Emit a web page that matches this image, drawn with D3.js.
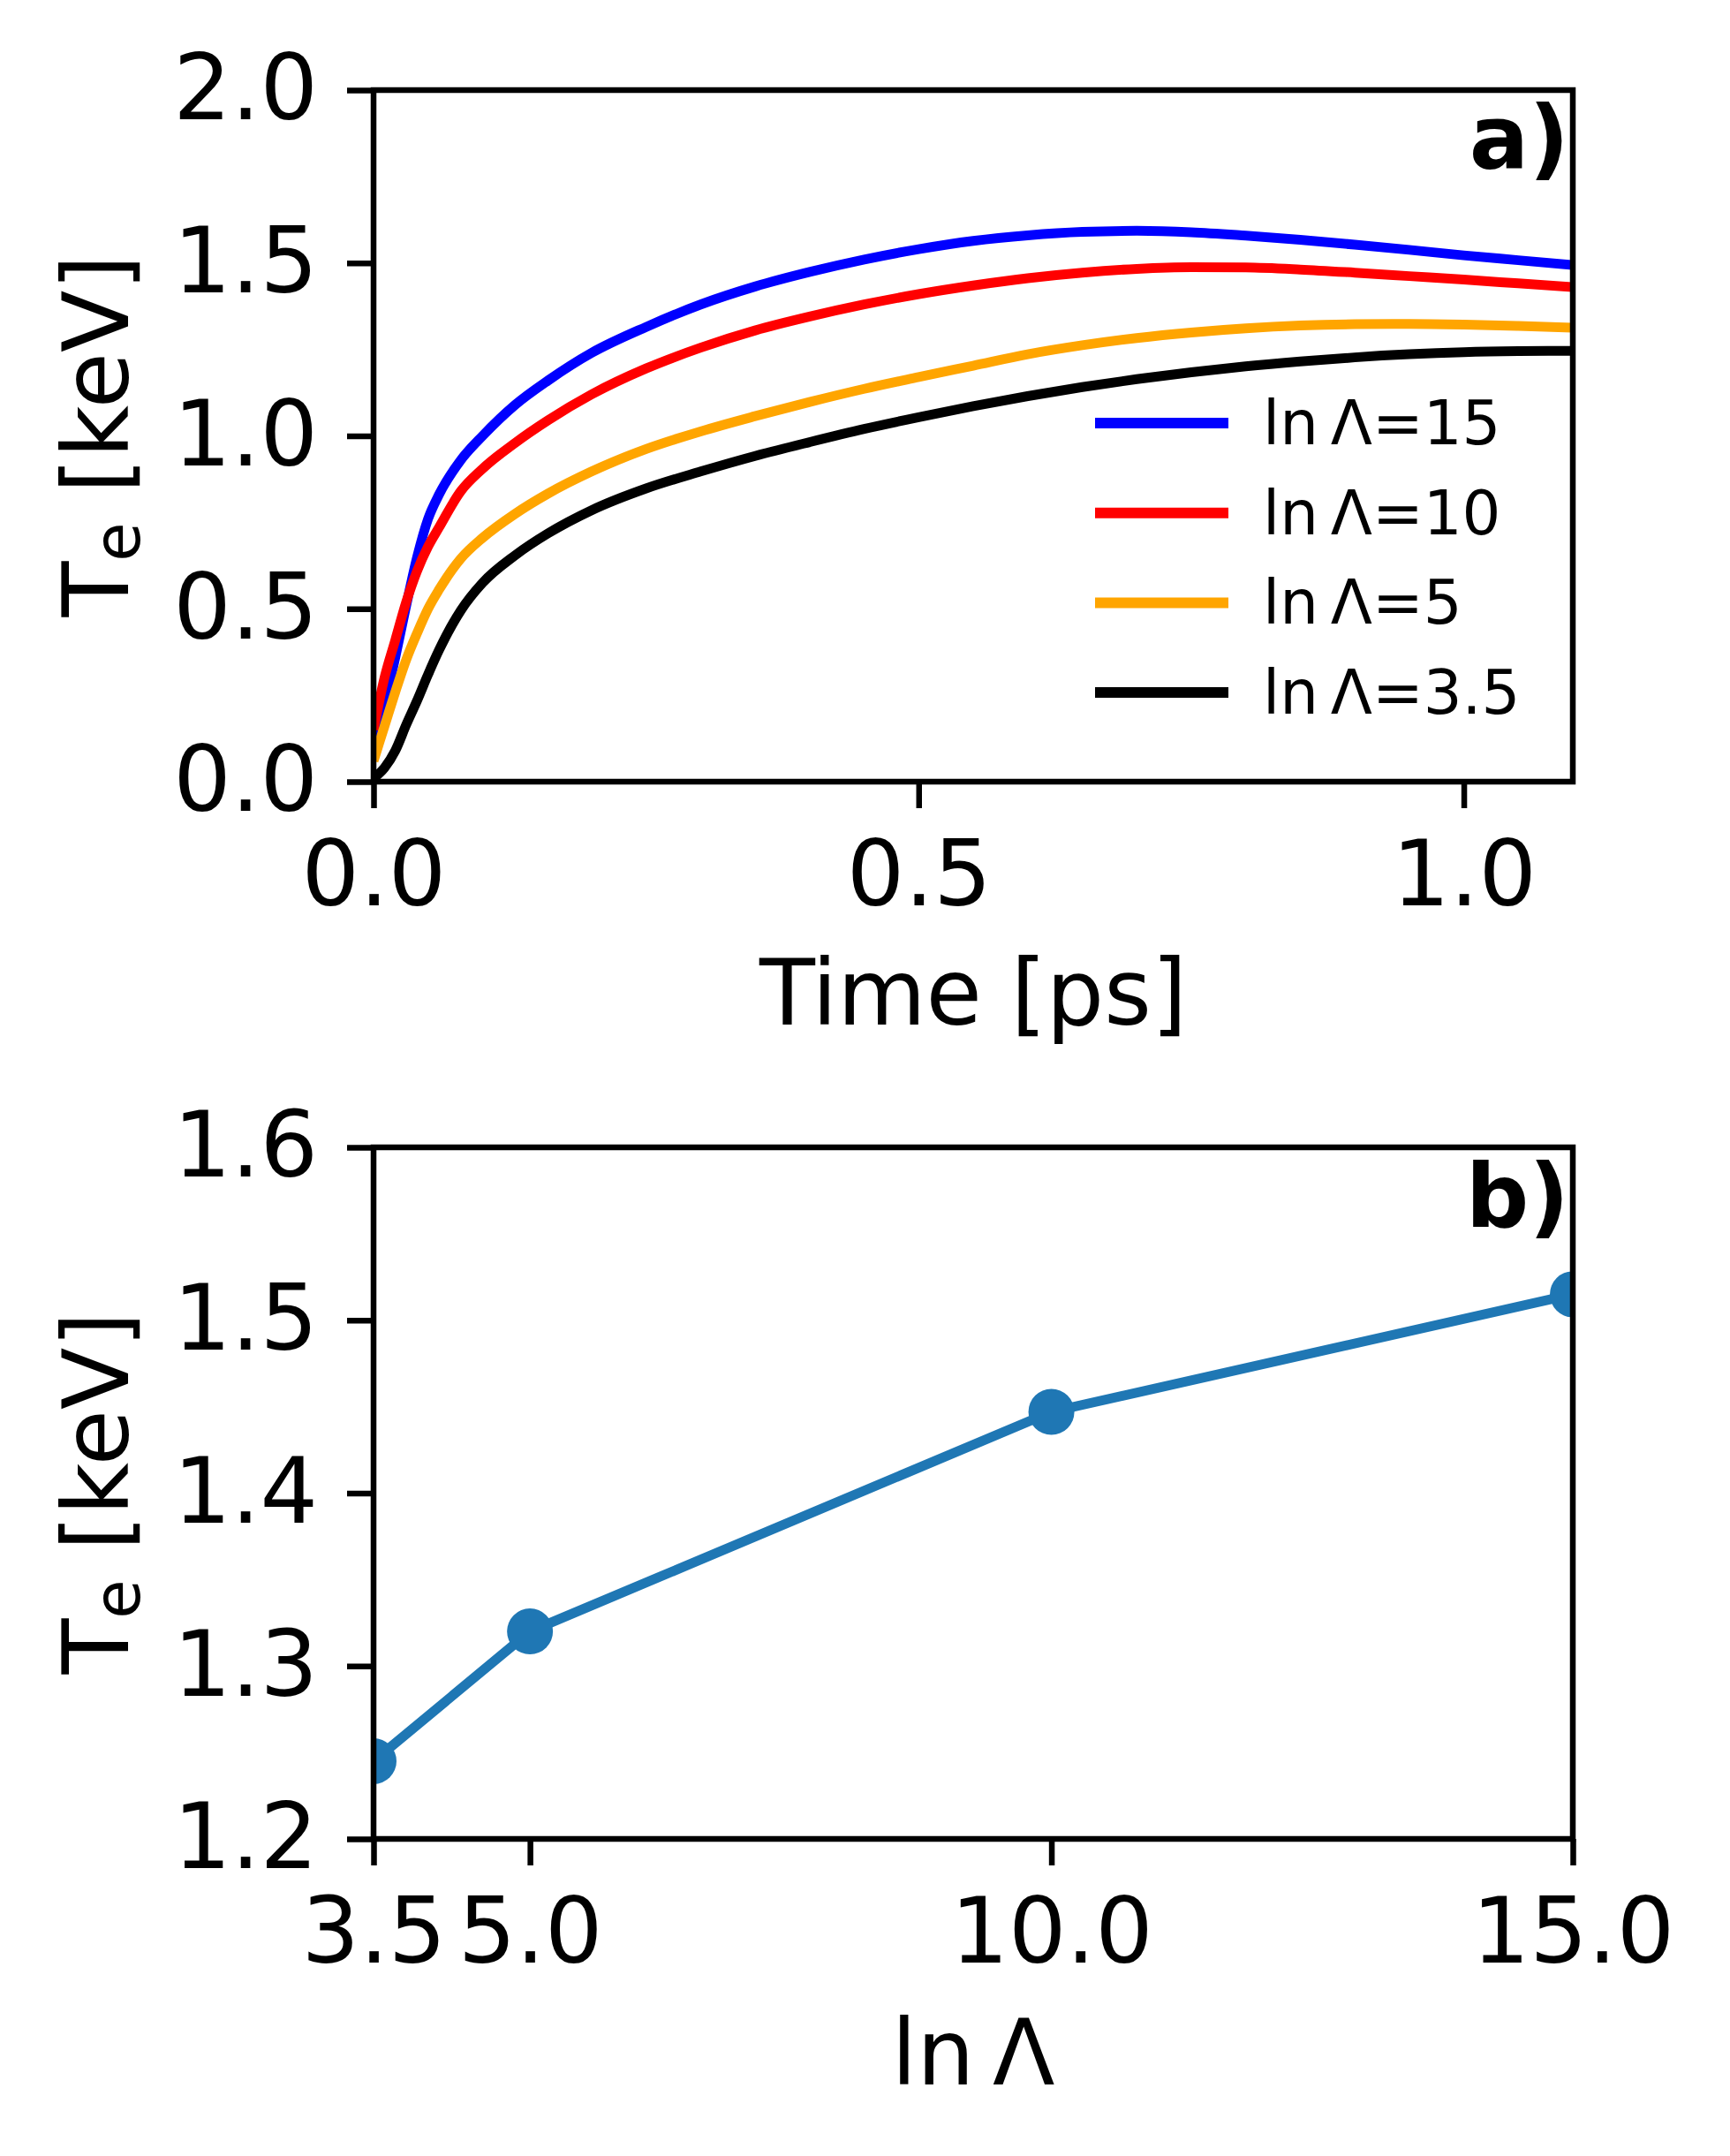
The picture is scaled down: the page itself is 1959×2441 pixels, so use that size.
<!DOCTYPE html>
<html>
  <script src="https://d3js.org/d3.v7.min.js" type="text/JavaScript"></script>
  <style>
    body { margin: 0; background: #fff; }
    text { font-family: "DejaVu Sans", sans-serif; fill: #000; }
  </style>
  <body>
    <svg></svg>
    <script>
// panel a) : electron temperature vs time for several Coulomb logarithms
var timePs = [0, 0.01, 0.02, 0.03, 0.04, 0.05, 0.06, 0.08, 0.10, 0.13, 0.16, 0.20, 0.25, 0.30, 0.35,
              0.40, 0.45, 0.50, 0.55, 0.60, 0.65, 0.70, 0.75, 0.80, 0.85, 0.90, 0.95, 1.00, 1.05, 1.10];
var te15 = [0.09, 0.22, 0.36, 0.51, 0.65, 0.76, 0.83, 0.93, 1.00, 1.09, 1.16, 1.24, 1.315, 1.38, 1.432,
            1.474, 1.51, 1.54, 1.564, 1.58, 1.59, 1.593, 1.589, 1.579, 1.567, 1.553, 1.538, 1.522, 1.508, 1.494];
var te10 = [0.15, 0.30, 0.41, 0.52, 0.61, 0.68, 0.735, 0.84, 0.905, 0.98, 1.045, 1.12, 1.195, 1.255, 1.305,
            1.345, 1.38, 1.41, 1.435, 1.456, 1.472, 1.483, 1.488, 1.487, 1.481, 1.472, 1.462, 1.452, 1.441, 1.43];
var te5 = [0.06, 0.16, 0.26, 0.353, 0.43, 0.50, 0.555, 0.645, 0.705, 0.775, 0.833, 0.897, 0.962, 1.013, 1.057,
           1.098, 1.136, 1.17, 1.203, 1.236, 1.262, 1.283, 1.299, 1.311, 1.319, 1.323, 1.324, 1.322, 1.318, 1.313];
var te35 = [0.01, 0.04, 0.09, 0.165, 0.235, 0.31, 0.38, 0.495, 0.575, 0.655, 0.718, 0.785, 0.848, 0.897, 0.942,
            0.982, 1.02, 1.054, 1.086, 1.115, 1.141, 1.164, 1.184, 1.201, 1.215, 1.227, 1.236, 1.242, 1.245, 1.246];
var seriesLabels = ['15', '10', '5', '3.5'];
var seriesColors = ['blue', 'red', 'orange', 'black'];
var timeTicks = [0, 0.5, 1.0];
var teTicksA = [0, 0.5, 1.0, 1.5, 2.0];

// panel b) : temperature vs ln Lambda
var lnLambda = [3.5, 5, 10, 15];
var teB = [1.245, 1.32, 1.447, 1.515];
var teTicksB = [1.2, 1.3, 1.4, 1.5, 1.6];

var W = 1959, H = 2441;
var FS = 103;
var left = 423, right = 1781;

var svg = d3.select('svg').attr('width', W).attr('height', H);
svg.append('rect').attr('width', W).attr('height', H).attr('fill', '#fff');

function panel(top, bottom, xDomain, yDomain, xTicks, xFmt, yTicks, id) {
  var x = d3.scaleLinear().domain(xDomain).range([left, right]);
  var y = d3.scaleLinear().domain(yDomain).range([bottom, top]);

  svg.append('clipPath').attr('id', id)
    .append('rect').attr('x', left).attr('y', top).attr('width', right - left).attr('height', bottom - top);

  var gx = svg.append('g').attr('transform', `translate(0,${bottom})`)
    .call(d3.axisBottom(x).tickValues(xTicks).tickFormat(xFmt).tickSize(30).tickSizeOuter(0).tickPadding(37));
  var gy = svg.append('g').attr('transform', `translate(${left},0)`)
    .call(d3.axisLeft(y).tickValues(yTicks).tickFormat(d3.format('.1f')).tickSize(30).tickSizeOuter(0).tickPadding(33));
  [gx, gy].forEach(g => {
    g.select('.domain').remove();
    g.selectAll('line').attr('stroke', '#000').attr('stroke-width', 6.5);
    g.selectAll('text').attr('font-size', FS).style('font-family', '"DejaVu Sans"');
  });

  return { x: x, y: y, top: top, bottom: bottom, clip: `url(#${id})` };
}

function frame(p) {
  svg.append('rect')
    .attr('x', left).attr('y', p.top).attr('width', right - left).attr('height', p.bottom - p.top)
    .attr('fill', 'none').attr('stroke', '#000').attr('stroke-width', 6.5);
}

// ---- panel a
var pa = panel(102, 885, [0, 1.1], [0, 2], timeTicks, d3.format('.1f'), teTicksA, 'clipA');
var allSeries = [te15, te10, te5, te35];

var lineA = d3.line().curve(d3.curveMonotoneX).x((d, i) => pa.x(timePs[i])).y(d => pa.y(d));
svg.append('g').attr('clip-path', pa.clip)
  .selectAll('path').data(allSeries).enter().append('path')
    .attr('d', d => lineA(d))
    .attr('fill', 'none')
    .attr('stroke', (d, i) => seriesColors[i])
    .attr('stroke-width', 11)
    .attr('stroke-linejoin', 'round');
frame(pa);

// legend (no frame)
var leg = svg.append('g').selectAll('g').data(seriesLabels).enter().append('g')
  .attr('transform', (d, i) => `translate(1240,${479 + i * 101.7})`);
leg.append('line').attr('x1', 0).attr('x2', 151)
  .attr('stroke', (d, i) => seriesColors[i]).attr('stroke-width', 12);
leg.append('text').attr('x', 190).attr('dominant-baseline', 'central')
  .attr('font-size', 69)
  .text(d => 'ln\u2009\u039b=' + d);

svg.append('text').attr('x', 1777).attr('y', 191).attr('text-anchor', 'end')
  .attr('font-size', 100).attr('font-weight', 'bold').text('a)');

svg.append('text').attr('x', (left + right) / 2).attr('y', 1160).attr('text-anchor', 'middle')
  .attr('font-size', FS).text('Time [ps]');

function ylabel(cy) {
  var t = svg.append('text').attr('transform', `translate(145,${cy}) rotate(-90)`)
    .attr('text-anchor', 'middle').attr('font-size', FS);
  t.append('tspan').text('T');
  t.append('tspan').attr('font-size', FS * 0.7).attr('dy', 13).text('e');
  t.append('tspan').attr('dy', -13).text(' [keV]');
}
ylabel((102 + 885) / 2);

// ---- panel b
var pb = panel(1299, 2082, [3.5, 15], [1.2, 1.6], lnLambda, d3.format('.1f'), teTicksB, 'clipB');
var lineB = d3.line().x((d, i) => pb.x(lnLambda[i])).y(d => pb.y(d));
var gb = svg.append('g').attr('clip-path', pb.clip);
gb.append('path').attr('d', lineB(teB))
  .attr('fill', 'none').attr('stroke', '#1f77b4').attr('stroke-width', 11);
gb.selectAll('circle').data(teB).enter().append('circle')
  .attr('cx', (d, i) => pb.x(lnLambda[i]))
  .attr('cy', d => pb.y(d))
  .attr('r', 26)
  .attr('fill', '#1f77b4');
frame(pb);

svg.append('text').attr('x', 1777).attr('y', 1389).attr('text-anchor', 'end')
  .attr('font-size', 100).attr('font-weight', 'bold').text('b)');

svg.append('text').attr('x', (left + right) / 2).attr('y', 2360).attr('text-anchor', 'middle')
  .attr('font-size', FS).text('ln\u2009\u039b');

ylabel((1299 + 2082) / 2);
    </script>
  </body>
</html>
